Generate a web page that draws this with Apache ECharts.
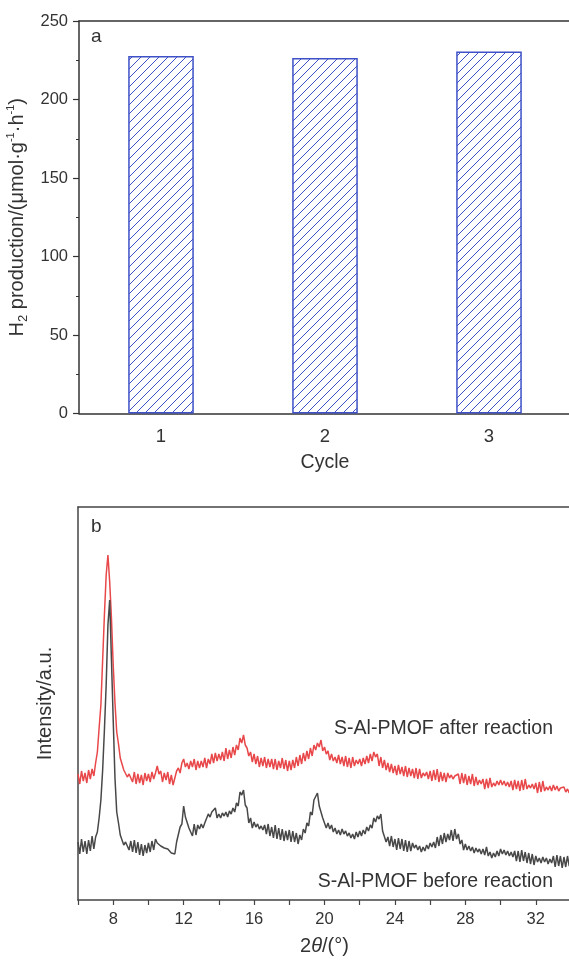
<!DOCTYPE html>
<html><head><meta charset="utf-8">
<script src="https://cdn.jsdelivr.net/npm/echarts@6/dist/echarts.min.js"></script>
<style>html,body{margin:0;padding:0;background:#fff;overflow:hidden}#c{width:569px;height:960px}</style>
</head><body><div id="c"></div>
<script>
// ---- panel a ----
const cycles = ['1', '2', '3'];
const h2Production = [227.7, 226.5, 230.6];
const yTicksA = [0, 50, 100, 150, 200, 250];

// ---- panel b (XRD, 2θ from 6 to 34 in 0.1° steps) ----
const angleStart = 6, angleStep = 0.1;
const afterReaction = [
  126,116,129,119,127,117,130,121,131,124,
  137,148,172,195,240,285,325,345,318,282,
  235,197,168,156,142,140,130,131,123,126,
  127,118,128,116,126,117,125,115,127,119,
  126,118,128,121,127,134,126,129,118,127,
  120,128,116,125,115,122,129,132,127,137,
  141,133,137,131,139,133,141,130,139,132,
  139,133,142,132,141,136,146,137,147,139,
  146,140,148,139,152,141,150,142,153,145,
  155,150,162,157,165,155,152,144,148,138,
  146,136,144,133,142,134,143,132,141,133,
  141,131,141,130,139,132,142,131,140,129,
  139,130,140,132,143,134,145,136,147,139,
  149,141,152,144,155,150,157,153,160,149,
  153,146,149,140,146,139,143,137,145,136,
  143,134,144,133,142,132,143,134,140,136,
  141,134,142,136,144,137,146,139,148,143,
  146,134,143,132,140,130,137,128,136,127,
  134,125,135,126,133,124,134,123,132,124,
  131,122,132,121,131,122,127,124,128,121,
  129,119,130,120,131,118,128,119,127,118,
  127,122,125,121,124,122,126,116,127,117,
  126,115,124,116,126,114,123,115,120,116,
  121,111,121,112,122,113,117,114,119,115,
  120,115,119,114,118,113,119,110,120,111,
  119,109,120,110,121,111,115,112,116,111,
  117,107,118,108,119,109,113,110,114,109,
  115,110,114,109,112,110,113,108,111,107,
  114
];
const beforeReaction = [
  58,46,61,48,59,46,60,49,64,51,
  63,68,82,100,130,170,215,275,300,240,
  180,122,88,77,65,64,55,58,56,50,
  59,48,60,47,58,45,56,44,55,47,
  57,48,59,50,61,57,58,54,55,52,
  54,51,51,47,48,46,58,60,73,76,
  94,83,84,72,74,64,76,65,75,71,
  76,72,77,75,86,83,88,87,92,82,
  86,82,87,84,88,83,89,86,92,88,
  97,94,108,105,110,95,92,77,82,72,
  78,73,76,71,74,70,75,66,76,64,
  73,62,75,61,72,60,71,59,69,60,
  70,58,69,58,67,56,65,60,71,67,
  77,74,88,85,100,98,107,94,95,82,
  84,72,77,71,75,68,72,66,70,65,
  71,66,69,64,67,62,66,61,68,63,
  69,64,70,66,73,69,75,72,82,78,
  84,81,86,69,70,58,63,54,64,53,
  61,50,62,51,61,49,60,48,59,49,
  57,52,55,50,54,48,53,49,55,51,
  57,53,58,52,63,54,65,56,67,58,
  66,60,70,59,71,61,66,56,60,50,
  56,50,54,49,53,47,52,48,51,46,
  51,45,53,44,48,42,47,43,49,44,
  51,46,50,45,49,44,48,43,49,39,
  49,38,50,39,48,37,47,36,46,35,
  44,38,42,37,43,38,42,36,41,37,
  44,33,45,34,44,32,43,33,44,34,
  39
];
const xTicksB = [8, 12, 16, 20, 24, 28, 32];

function toPairs(arr) {
  return arr.map((v, i) => [Math.round((angleStart + i * angleStep) * 10) / 10, v]);
}

// hatch pattern (diagonal "///")
const BLUE = '#3e51c6';
const P = 9;
const pat = document.createElement('canvas');
pat.width = P; pat.height = P;
const g = pat.getContext('2d');
g.fillStyle = '#ffffff'; g.fillRect(0, 0, P, P);
g.strokeStyle = BLUE; g.lineWidth = 1.0;
g.beginPath();
g.moveTo(-1, P + 1); g.lineTo(P + 1, -1);
g.moveTo(-1, 1); g.lineTo(1, -1);
g.moveTo(P - 1, P + 1); g.lineTo(P + 1, P - 1);
g.stroke();

const FONT = 'Liberation Sans, Arial, sans-serif';
const AX = '#333333';
const AXB = '#444444';

const chart = echarts.init(document.getElementById('c'), null, { renderer: 'canvas' });
chart.setOption({
  backgroundColor: '#ffffff',
  animation: false,
  textStyle: { fontFamily: FONT },
  grid: [
    { left: 79, top: 21, width: 492, height: 392.5, outerBoundsMode: 'none', containLabel: false },
    { left: 78, top: 507, width: 493, height: 393, outerBoundsMode: 'none', containLabel: false }
  ],
  xAxis: [
    {
      gridIndex: 0, type: 'category', data: cycles, boundaryGap: true,
      axisLine: { lineStyle: { color: AX, width: 1.5 } },
      axisTick: { show: false },
      axisLabel: { color: AX, fontSize: 18.5, margin: 14, fontFamily: FONT },
      name: 'Cycle', nameLocation: 'middle', nameGap: 39,
      nameTextStyle: { color: AX, fontSize: 19.5, fontFamily: FONT }
    },
    {
      gridIndex: 0, type: 'category', data: cycles, position: 'top', boundaryGap: true,
      axisLine: { lineStyle: { color: AX, width: 1.5 } },
      axisTick: { show: false }, axisLabel: { show: false }
    },
    {
      gridIndex: 1, type: 'value', min: 6, max: 34, interval: 2,
      axisLine: { lineStyle: { color: AXB, width: 1.5 } },
      axisTick: { show: true, length: 5, lineStyle: { color: AXB, width: 1.2 } },
      axisLabel: {
        color: AX, fontSize: 16.5, margin: 11, fontFamily: FONT,
        formatter: v => (xTicksB.indexOf(v) >= 0 ? String(v) : '')
      },
      splitLine: { show: false },
      name: '{a|2}{i|θ}{a|/(°)}', nameLocation: 'middle', nameGap: 36,
      nameTextStyle: {
        color: AX, fontSize: 20,
        rich: { a: { fontSize: 20, color: AX, fontFamily: FONT }, i: { fontSize: 20, color: AX, fontStyle: 'italic', fontFamily: FONT } }
      }
    },
    {
      gridIndex: 1, type: 'value', min: 6, max: 34, interval: 2, position: 'top',
      axisLine: { lineStyle: { color: AXB, width: 1.5 } },
      axisTick: { show: false }, axisLabel: { show: false }, splitLine: { show: false }
    }
  ],
  yAxis: [
    {
      gridIndex: 0, type: 'value', min: 0, max: 250, interval: 50,
      axisLine: { show: true, lineStyle: { color: AX, width: 1.5 } },
      axisTick: { show: true, length: 6, lineStyle: { color: AX, width: 1.2 } },
      minorTick: { show: true, splitNumber: 2, length: 3, lineStyle: { color: AX, width: 1 } },
      axisLabel: { color: AX, fontSize: 16.5, margin: 11, fontFamily: FONT,
        formatter: v => (yTicksA.indexOf(v) >= 0 ? String(v) : '') },
      splitLine: { show: false },
      name: '{a|H}{s|2}{a| production/(μmol·g}{p|-1}{a|·h}{p|-1}{a|)}',
      nameLocation: 'middle', nameRotate: 90, nameGap: 40,
      nameTextStyle: {
        color: AX, fontSize: 20,
        rich: {
          a: { fontSize: 20, color: AX, fontFamily: FONT, lineHeight: 24, verticalAlign: 'middle' },
          s: { fontSize: 13, color: AX, fontFamily: FONT, lineHeight: 24, verticalAlign: 'bottom' },
          p: { fontSize: 11, color: AX, fontFamily: FONT, lineHeight: 24, verticalAlign: 'top' }
        }
      }
    },
    {
      gridIndex: 1, type: 'value', min: 0, max: 393,
      axisLine: { show: true, lineStyle: { color: AXB, width: 1.5 } },
      axisTick: { show: false },
      axisLabel: { show: false },
      splitLine: { show: false },
      name: 'Intensity/a.u.', nameLocation: 'middle', nameRotate: 90, nameGap: 23,
      nameTextStyle: { color: AX, fontSize: 20, fontFamily: FONT }
    }
  ],
  series: [
    {
      type: 'bar', xAxisIndex: 0, yAxisIndex: 0, data: h2Production, barWidth: '40%',
      itemStyle: { color: { image: pat, repeat: 'repeat' }, borderColor: BLUE, borderWidth: 1.5 }
    },
    {
      type: 'line', xAxisIndex: 2, yAxisIndex: 1, data: toPairs(beforeReaction),
      showSymbol: false, lineStyle: { color: '#484848', width: 1.5 }, z: 3
    },
    {
      type: 'line', xAxisIndex: 2, yAxisIndex: 1, data: toPairs(afterReaction),
      showSymbol: false, lineStyle: { color: '#e8484a', width: 1.5 }, z: 2
    }
  ],
  graphic: [
    { type: 'text', x: 91, y: 37, style: { text: 'a', font: '19px ' + FONT, fill: AX, textVerticalAlign: 'middle' } },
    { type: 'text', x: 91, y: 527, style: { text: 'b', font: '19px ' + FONT, fill: AX, textVerticalAlign: 'middle' } },
    { type: 'text', x: 553, y: 729, style: { text: 'S-Al-PMOF after reaction', font: '19.5px ' + FONT, fill: AX, textAlign: 'right', textVerticalAlign: 'middle' } },
    { type: 'text', x: 553, y: 882, style: { text: 'S-Al-PMOF before reaction', font: '19.5px ' + FONT, fill: AX, textAlign: 'right', textVerticalAlign: 'middle' } }
  ]
});
</script>
</body></html>
